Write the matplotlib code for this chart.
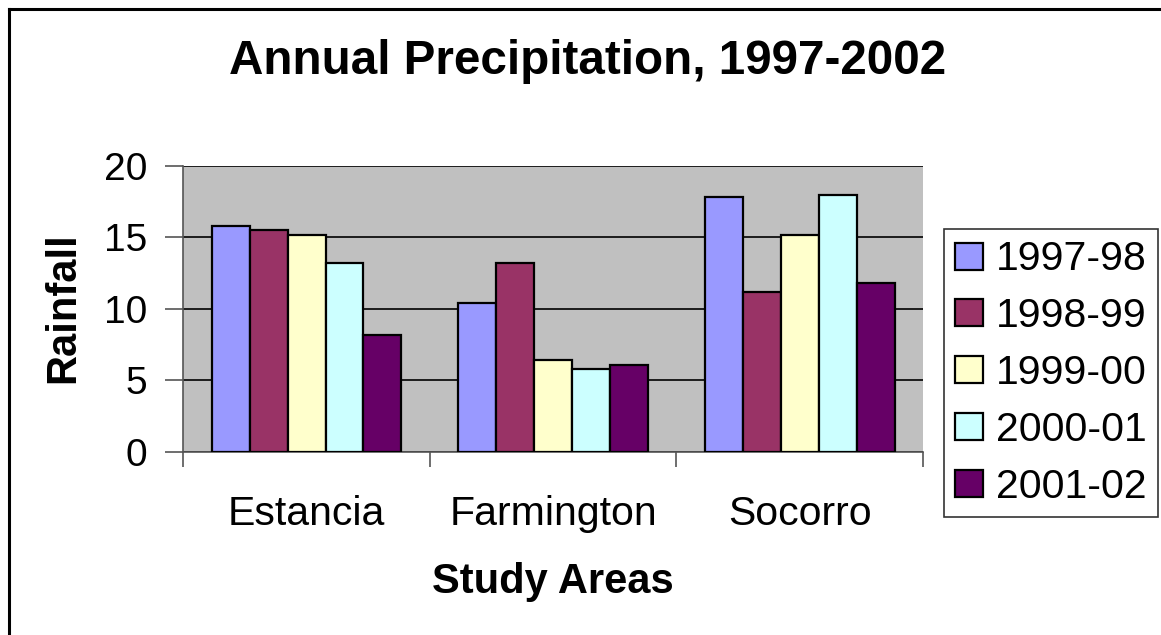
import matplotlib
matplotlib.use("Agg")
import matplotlib.pyplot as plt
from matplotlib.lines import Line2D
import numpy as np

categories = ["Estancia", "Farmington", "Socorro"]
series_names = ["1997-98", "1998-99", "1999-00", "2000-01", "2001-02"]
v_1997_98 = [15.8, 10.4, 17.8]
v_1998_99 = [15.5, 13.2, 11.2]
v_1999_00 = [15.2, 6.4, 15.2]
v_2000_01 = [13.2, 5.8, 18.0]
v_2001_02 = [8.2, 6.1, 11.8]
series_values = [v_1997_98, v_1998_99, v_1999_00, v_2000_01, v_2001_02]
colors = ["#9999FF", "#993366", "#FFFFCC", "#CCFFFF", "#660066"]
yticks = [0, 5, 10, 15, 20]

plt.rcParams['font.family'] = ['Liberation Sans', 'DejaVu Sans']

W, H = 1161, 635
fig = plt.figure(figsize=(W / 100, H / 100), dpi=100)
fig.patch.set_facecolor("white")

# plot area in pixel coords
left_px, right_px, top_px, bottom_px = 183.3, 923.0, 166.0, 451.7
ax = fig.add_axes([left_px / W, 1 - bottom_px / H, (right_px - left_px) / W, (bottom_px - top_px) / H])
ax.set_facecolor("#C0C0C0")

n = len(series_names)
w = 1 / 6.5
x = np.arange(len(categories)) + 0.5
for i, (name, vals, c) in enumerate(zip(series_names, series_values, colors)):
    ax.bar(x + (i - (n - 1) / 2) * w, vals, width=w, color=c, edgecolor="black",
           linewidth=1.6, label=name, zorder=3)

ax.set_xlim(0, len(categories))
ax.set_ylim(0, 20)
ax.set_yticks(yticks)
ax.set_yticklabels([str(t) for t in yticks], fontsize=28)
ax.yaxis.grid(True, color="black", linewidth=1.2, zorder=1)
ax.set_axisbelow(True)

# x ticks at category boundaries, labels at centers
ax.set_xticks(np.arange(len(categories) + 1))
ax.set_xticklabels([])
ax.set_xticks(x, minor=True)
ax.set_xticklabels(categories, minor=True, fontsize=29.5)
ax.tick_params(axis='x', which='minor', length=0, pad=31)
ax.tick_params(axis='x', which='major', length=11, width=1.2, color="#555555")
ax.tick_params(axis='y', length=13, width=1.2, color="#555555", pad=13)

for s in ["top", "right"]:
    ax.spines[s].set_visible(False)
ax.spines["left"].set_color("#555555")
ax.spines["bottom"].set_color("#555555")
ax.spines["left"].set_linewidth(1.2)
ax.spines["bottom"].set_linewidth(1.2)

fig.text(588 / W, 1 - 61 / H, "Annual Precipitation, 1997-2002", fontsize=34.3,
         fontweight="bold", ha="center", va="center")
fig.text(63 / W, 1 - 308 / H, "Rainfall", fontsize=30, fontweight="bold",
         rotation=90, ha="center", va="center")
fig.text(553 / W, 1 - 582 / H, "Study Areas", fontsize=30, fontweight="bold",
         ha="center", va="center")

leg = ax.legend(loc="upper left", bbox_to_anchor=(944 / W, 1 - 229 / H),
                bbox_transform=fig.transFigure, fontsize=29.5, frameon=True,
                fancybox=False, edgecolor="black", handlelength=0.66,
                handleheight=0.64, handletextpad=0.32, labelspacing=0.46,
                borderpad=0.28, borderaxespad=0)
leg.get_frame().set_linewidth(1.2)

# outer chart border (cropped at right/bottom)
fig.add_artist(Line2D([8.5 / W, 8.5 / W], [1 - 8.5 / H, 0], color="black", linewidth=2.2,
                      transform=fig.transFigure))
fig.add_artist(Line2D([8.5 / W, 1], [1 - 8.5 / H, 1 - 8.5 / H], color="black", linewidth=2.2,
                      transform=fig.transFigure))

fig.savefig("out.png", dpi=100)
